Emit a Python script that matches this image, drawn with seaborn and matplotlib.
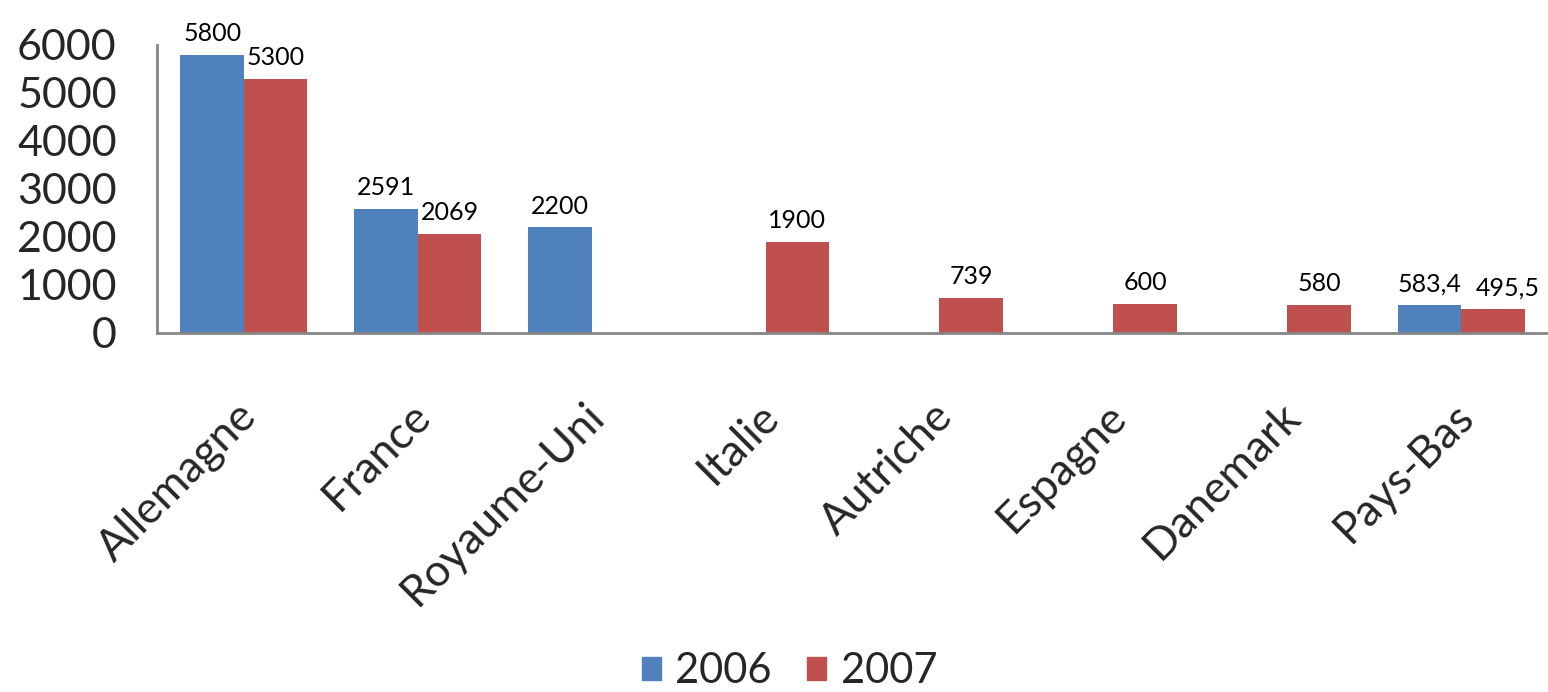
import numpy as np
import pandas as pd
import seaborn as sns
import matplotlib
matplotlib.use("Agg")
import matplotlib.pyplot as plt
import matplotlib.transforms as mtransforms

# Data
countries = ["Allemagne", "France", "Royaume-Uni", "Italie", "Autriche",
             "Espagne", "Danemark", "Pays-Bas"]
values_2006 = [5800, 2591, 2200, np.nan, np.nan, np.nan, np.nan, 583.4]
values_2007 = [5300, 2069, np.nan, 1900, 739, 600, 580, 495.5]
years = ["2006", "2007"]
colors = ["#4F81BD", "#C0504D"]

df = pd.DataFrame({
    "pays": countries * 2,
    "annee": ["2006"] * len(countries) + ["2007"] * len(countries),
    "valeur": values_2006 + values_2007,
})

sns.set_style("white")
plt.rcParams["font.family"] = ["Lato", "DejaVu Sans"]

fig = plt.figure(figsize=(15.48, 6.92), dpi=100)
ax = fig.add_axes([0.1014, 0.5188, 0.8986, 0.4162])

sns.barplot(data=df, x="pays", y="valeur", hue="annee", order=countries,
            hue_order=years, palette=colors, width=0.73, saturation=1,
            errorbar=None, linewidth=0, ax=ax)

# Value labels on top of bars
for cont in ax.containers:
    anns = ax.bar_label(cont, fmt=lambda v: f"{v:g}".replace(".", ","),
                        fontsize=18, padding=7, color="black")
    for a in anns:
        # the last Pays-Bas label sits a bit to the right, like the original
        if a.get_text() == "495,5":
            a.xyann = (11, 7)

ax.set_ylim(0, 6000)
ax.set_xlim(-0.5, 7.5)
ax.set_yticks(range(0, 6001, 1000))
ax.tick_params(axis="y", labelsize=31, length=0, pad=29)
ax.tick_params(axis="x", labelsize=32, length=0, pad=0)
shift = mtransforms.ScaledTranslation(-0.08, -0.62, fig.dpi_scale_trans)
for lab in ax.get_xticklabels():
    lab.set_rotation(45)
    lab.set_ha("right")
    lab.set_va("top")
    lab.set_rotation_mode("anchor")
    lab.set_transform(lab.get_transform() + shift)
ax.set_xlabel("")
ax.set_ylabel("")

for side in ["top", "right"]:
    ax.spines[side].set_visible(False)
for side in ["left", "bottom"]:
    ax.spines[side].set_color("#868686")
    ax.spines[side].set_linewidth(2)

ax.legend_.remove()
handles = [plt.Rectangle((0, 0), 1, 1, color=c) for c in colors]
fig.legend(handles, years, loc="center", bbox_to_anchor=(0.51, 0.03),
           ncol=2, frameon=False, fontsize=30, handlelength=0.45,
           handleheight=0.45, handletextpad=0.35, columnspacing=0.85)

fig.savefig("out.png", dpi=100)
